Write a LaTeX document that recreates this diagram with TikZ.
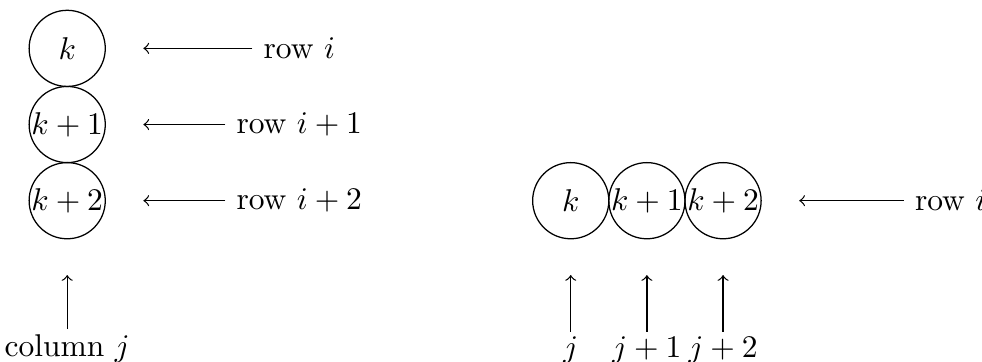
\documentclass[tikz,border=0pt]{standalone}
\usetikzlibrary{positioning}

\begin{document}
\begin{tikzpicture}[
    node distance={0.85cm},
    cell/.style = {draw, circle, minimum size=0.85cm, inner sep=0pt},
    lbl/.style = {inner ysep=1.5pt}
]
    \useasboundingbox (0,0) rectangle (10.96,4.04);

    % Nœuds en colonne (Column)
    \node[cell] (A1) at (0.75,3.5) {$k$};
    \node[cell] (A2) [below of=A1] {$k+1$};
    \node[cell] (A3) [below of=A2] {$k+2$};

    % Nœuds en ligne (Row)
    \node[cell] (B1) at (6.37,1.8) {$k$};
    \node[cell] (B2) [right of=B1] {$k+1$};
    \node[cell] (B3) [right of=B2] {$k+2$};

    % Pointes des flèches (Tips)
    \node[coordinate] (TA1) [right of=A1] {};
    \node[coordinate] (TA2) [right of=A2] {};
    \node[coordinate] (TA3) [right of=A3] {};
    \node[coordinate] (TB) [right of=B3] {};
    \node[coordinate] (TC) [below of=A3, node distance=0.83cm] {};
    \node[coordinate] (TD1) [below of=B1, node distance=0.83cm] {};
    \node[coordinate] (TD2) [below of=B2, node distance=0.83cm] {};
    \node[coordinate] (TD3) [below of=B3, node distance=0.83cm] {};

    % Étiquettes (Labels)
    \node (RA1) [right of=A1, node distance=2.59cm] {row $i$};
    \node (RA2) [right of=A2, node distance=2.59cm] {row $i+1$};
    \node (RA3) [right of=A3, node distance=2.59cm] {row $i+2$};
    \node (RB) [right of=B3, node distance=2.54cm] {row $i$};
    \node[lbl] (CA) [below of=A3, node distance=1.65cm] {column $j$};
    \node[lbl] (CB1) [below of=B1, node distance=1.67cm] {$j$};
    \node[lbl] (CB2) [below of=B2, node distance=1.67cm] {$j+1$};
    \node[lbl] (CB3) [below of=B3, node distance=1.67cm] {$j+2$};

    % Flèches (Arrows)
    \draw[->] (RA1) -- (TA1);
    \draw[->] (RA2) -- (TA2);
    \draw[->] (RA3) -- (TA3);
    \draw[->] (RB) -- (TB);
    \draw[->] (CA) -- (TC);
    \draw[->] (CB1) -- (TD1);
    \draw[->] (CB2) -- (TD2);
    \draw[->] (CB3) -- (TD3);

\end{tikzpicture}
\end{document}
